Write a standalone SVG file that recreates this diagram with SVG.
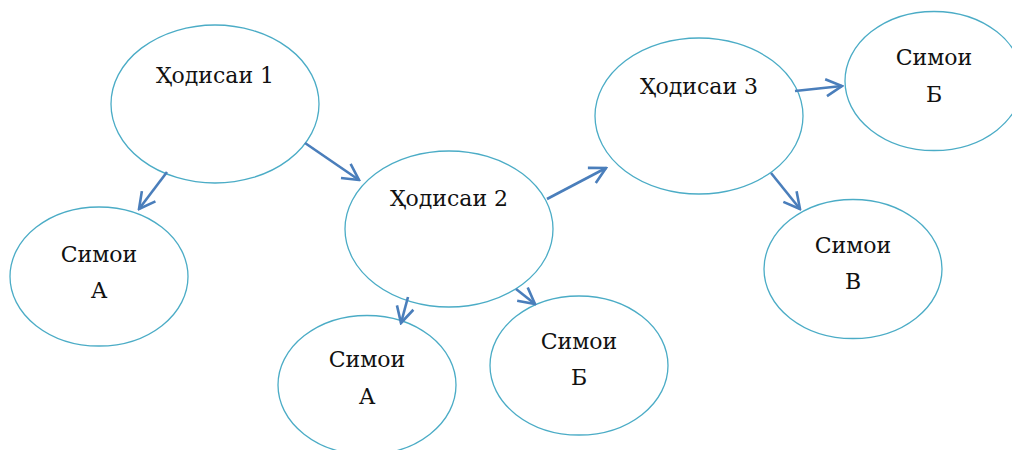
<svg xmlns="http://www.w3.org/2000/svg" width="1012" height="450" viewBox="0 0 1012 450">
<defs>
<style>
.n ellipse{fill:#fff;stroke:#4BACC6;stroke-width:1.3}
.n text{font-family:"DejaVu Serif","Liberation Serif",serif;font-size:22px;fill:#111;text-anchor:middle}
.c line{stroke:#4A7EBB;stroke-width:2.6;fill:none;marker-end:url(#ah)}
</style>
<marker id="ah" viewBox="0 0 20 21" refX="18" refY="10.5" markerWidth="20" markerHeight="21" markerUnits="userSpaceOnUse" orient="auto">
<path d="M2,2 L18,10.5 L2,19" fill="none" stroke="#4A7EBB" stroke-width="2.6" stroke-linejoin="miter"/>
</marker>
</defs>
<rect width="1012" height="450" fill="#fff"/>
<g id="h1" class="n"><ellipse cx="215" cy="104" rx="104" ry="79"/><text x="215" y="83">Ҳодисаи 1</text></g>
<g id="sa1" class="n"><ellipse cx="99" cy="276.5" rx="89" ry="69.5"/><text x="99" y="262">Симои</text><text x="99" y="298">А</text></g>
<g id="h2" class="n"><ellipse cx="449" cy="229" rx="104" ry="78"/><text x="449" y="206">Ҳодисаи 2</text></g>
<g id="sa2" class="n"><ellipse cx="367" cy="385" rx="89" ry="69.5"/><text x="367" y="367">Симои</text><text x="367" y="404">А</text></g>
<g id="sb1" class="n"><ellipse cx="579" cy="365.5" rx="89" ry="69.5"/><text x="579" y="349">Симои</text><text x="579" y="385">Б</text></g>
<g id="h3" class="n"><ellipse cx="699" cy="116" rx="104" ry="78"/><text x="699" y="94">Ҳодисаи 3</text></g>
<g id="sb2" class="n"><ellipse cx="934" cy="81" rx="89" ry="69.5"/><text x="934" y="65">Симои</text><text x="934" y="102">Б</text></g>
<g id="sv" class="n"><ellipse cx="853" cy="269" rx="89" ry="69.5"/><text x="853" y="253">Симои</text><text x="853" y="289">В</text></g>
<g id="connectors" class="c">
<line x1="167" y1="172" x2="139" y2="209"/>
<line x1="305" y1="143" x2="359" y2="180"/>
<line x1="547" y1="199" x2="606" y2="168"/>
<line x1="408" y1="297" x2="401" y2="323"/>
<line x1="516" y1="289" x2="535" y2="304"/>
<line x1="795" y1="91" x2="842" y2="86"/>
<line x1="771" y1="173" x2="800" y2="209"/>
</g>
</svg>
